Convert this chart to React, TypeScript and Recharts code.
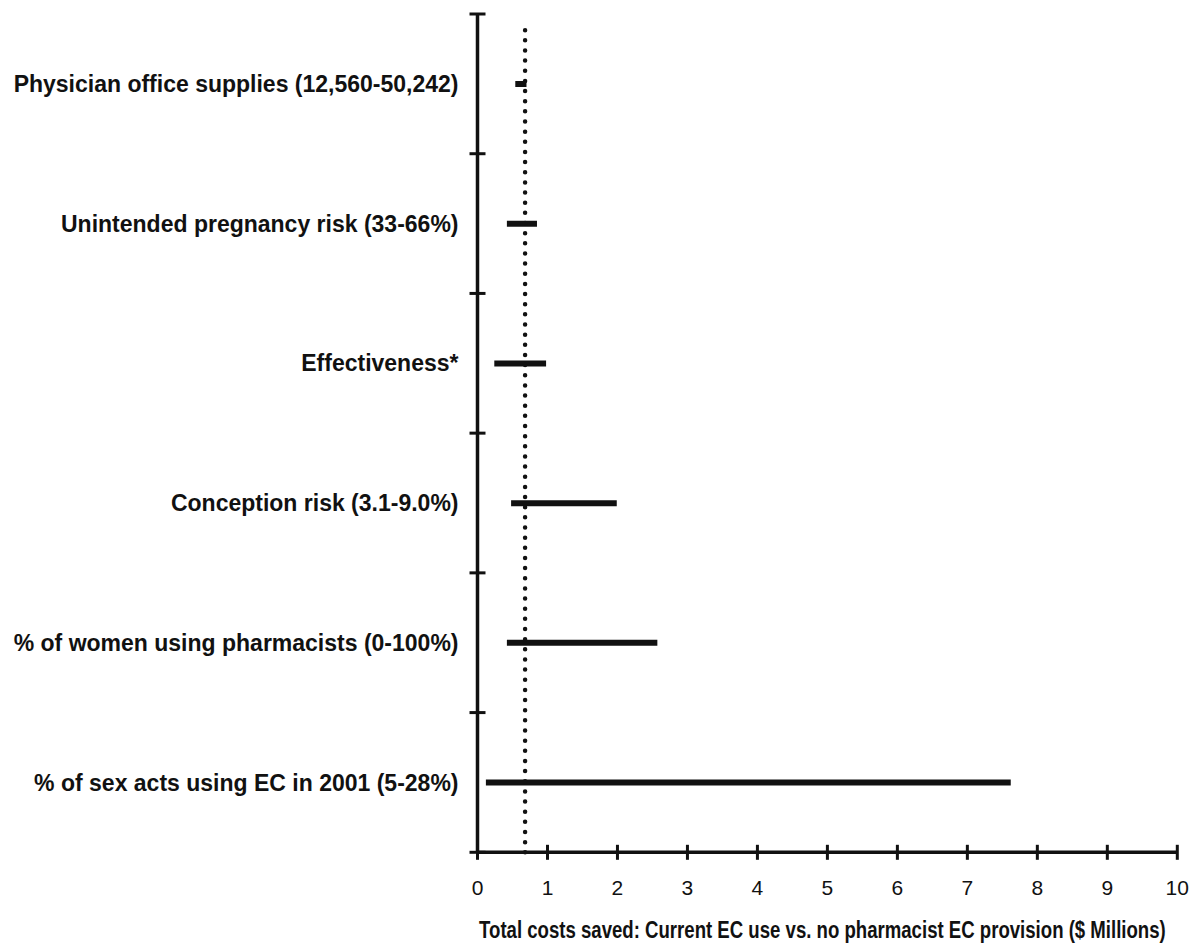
import React from "react";
import { BarChart, Bar, XAxis, YAxis, ReferenceLine, Label } from "recharts";

// Sensitivity parameters (top to bottom) and the range of total costs saved ($ millions)
const parameters = [
  "Physician office supplies (12,560-50,242)",
  "Unintended pregnancy risk (33-66%)",
  "Effectiveness*",
  "Conception risk (3.1-9.0%)",
  "% of women using pharmacists (0-100%)",
  "% of sex acts using EC in 2001 (5-28%)",
];
const lowSavings = [0.54, 0.42, 0.24, 0.48, 0.42, 0.12];
const highSavings = [0.7, 0.85, 0.98, 1.99, 2.57, 7.62];
const baseCaseSavings = 0.68;
const xTicks = [0, 1, 2, 3, 4, 5, 6, 7, 8, 9, 10];
const xTitle = "Total costs saved: Current EC use vs. no pharmacist EC provision  ($ Millions)";

const data = parameters.map((name, i) => ({ name, range: [lowSavings[i], highSavings[i]] }));

const INK = "#111";
const FONT = "'Liberation Sans', Arial, sans-serif";

// chart geometry
const CHART_W = 1191;
const CHART_H = 947;
const TOP = 14;
const X_AXIS_H = 94.7;
const BAND = (CHART_H - TOP - X_AXIS_H) / parameters.length;

const XTick = (props: any) => {
  const { x, y, payload } = props;
  return (
    <g>
      <line x1={x} y1={y - 7.5} x2={x} y2={y + 7.5} stroke={INK} strokeWidth={3} />
      <text x={x} y={y + 43} textAnchor="middle" fontFamily={FONT} fontSize={21} fill={INK}>
        {payload.value}
      </text>
    </g>
  );
};

// category label plus cross ticks at the band boundaries
const YTick = (props: any) => {
  const { x, y, payload, index, visibleTicksCount } = props;
  const edgeTop = y - BAND / 2;
  const edgeBottom = y + BAND / 2;
  return (
    <g>
      <line x1={x - 8} y1={edgeTop} x2={x + 8} y2={edgeTop} stroke={INK} strokeWidth={3} />
      {index === visibleTicksCount - 1 && (
        <line x1={x - 8} y1={edgeBottom} x2={x + 8} y2={edgeBottom} stroke={INK} strokeWidth={3} />
      )}
      <text
        x={x - 19}
        y={y}
        dy="0.355em"
        textAnchor="end"
        fontFamily={FONT}
        fontSize={23}
        fontWeight="bold"
        fill={INK}
      >
        {payload.value}
      </text>
    </g>
  );
};

// base-case line: round dots running up from the x axis
const DottedBase = (props: any) => {
  const { x1, y1, y2 } = props;
  const top = Math.min(y1, y2) + 15;
  const bottom = Math.max(y1, y2);
  return (
    <line
      x1={x1}
      y1={bottom}
      x2={x1}
      y2={top}
      stroke={INK}
      strokeWidth={4.5}
      strokeLinecap="round"
      strokeDasharray="0 10.15"
    />
  );
};

// axis title, set in tall narrow bold type
const XTitle = (props: any) => {
  const { viewBox } = props;
  const cx = viewBox.x + viewBox.width / 2 - 5;
  const baseline = viewBox.y + 86;
  return (
    <text
      transform={`translate(${cx},${baseline}) scale(1,1.3)`}
      x={0}
      y={0}
      textAnchor="middle"
      fontFamily={FONT}
      fontWeight="bold"
      fontSize={18.6}
      fill={INK}
    >
      {xTitle}
    </text>
  );
};

export default function App() {
  return (
    <div style={{ position: "absolute", left: 0, top: 0, background: "#fff" }}>
      <BarChart
        width={CHART_W}
        height={CHART_H}
        data={data}
        layout="vertical"
        margin={{ top: TOP, right: 13.7, left: 0, bottom: 0 }}
      >
        <XAxis
          type="number"
          domain={[0, 10]}
          ticks={xTicks}
          interval={0}
          tickSize={0}
          tickMargin={0}
          tick={<XTick />}
          axisLine={{ stroke: INK, strokeWidth: 3.5 }}
          height={X_AXIS_H}
        >
          <Label content={<XTitle />} />
        </XAxis>
        <YAxis
          type="category"
          dataKey="name"
          width={477.5}
          tickSize={0}
          tickMargin={0}
          tickLine={false}
          axisLine={{ stroke: INK, strokeWidth: 3.5 }}
          interval={0}
          tick={<YTick />}
        />
        <ReferenceLine x={baseCaseSavings} shape={<DottedBase />} />
        <Bar dataKey="range" barSize={6} fill={INK} isAnimationActive={false} />
      </BarChart>
    </div>
  );
}
